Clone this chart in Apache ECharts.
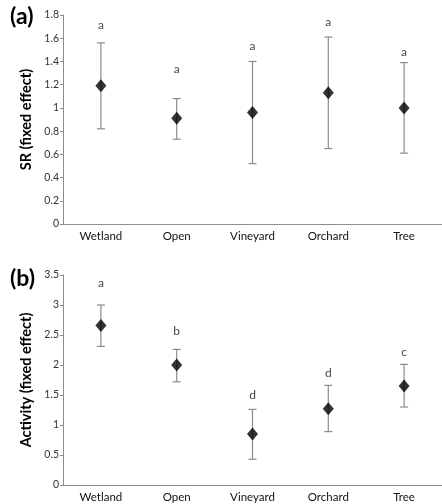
<!DOCTYPE html>
<html>
<head>
<meta charset="utf-8">
<script src="https://cdn.jsdelivr.net/npm/echarts@6/dist/echarts.min.js"></script>
<style>
  html, body { margin: 0; padding: 0; background: #fff; }
  #chart { width: 442px; height: 504px; }
</style>
</head>
<body>
<div id="chart"></div>
<script>
const categories = ['Wetland', 'Open', 'Vineyard', 'Orchard', 'Tree']

// panel (a) SR
const srMean = [1.19, 0.91, 0.96, 1.13, 1.0]
const srLow = [0.82, 0.73, 0.52, 0.65, 0.61]
const srHigh = [1.56, 1.08, 1.40, 1.61, 1.39]
const srLetters = ['a', 'a', 'a', 'a', 'a']
const srLetterY = [1.71, 1.335, 1.53, 1.74, 1.48]

// panel (b) Activity
const actMean = [2.66, 2.0, 0.85, 1.27, 1.65]
const actLow = [2.31, 1.72, 0.43, 0.89, 1.30]
const actHigh = [3.0, 2.26, 1.26, 1.66, 2.01]
const actLetters = ['a', 'b', 'd', 'd', 'c']
const actLetterY = [3.37, 2.57, 1.49, 1.86, 2.22]

const font = 'Lato, "Open Sans", sans-serif'
const axisGray = '#8c8c8c'

let myChart = echarts.init(document.getElementById('chart'), null, { renderer: 'canvas' })

function errorBars(params, api) {
    let x = api.value(0)
    let lo = api.coord([x, api.value(1)])
    let hi = api.coord([x, api.value(2)])
    let w = 4
    let style = { stroke: '#8c8c8c', lineWidth: 1.2 }
    return {
        type: 'group',
        children: [
            { type: 'line', shape: { x1: hi[0], y1: hi[1], x2: lo[0], y2: lo[1] }, style: style },
            { type: 'line', shape: { x1: hi[0] - w, y1: hi[1], x2: hi[0] + w, y2: hi[1] }, style: style },
            { type: 'line', shape: { x1: lo[0] - w, y1: lo[1], x2: lo[0] + w, y2: lo[1] }, style: style }
        ]
    }
}

function xAxisFor(idx) {
    return {
        type: 'category',
        gridIndex: idx,
        data: categories,
        axisLine: { lineStyle: { color: axisGray, width: 1 } },
        axisTick: { show: false },
        axisLabel: { color: '#111', fontSize: 11.5, fontFamily: font, margin: 6 },
        splitLine: { show: false }
    }
}

function yAxisFor(idx, max, interval, name) {
    return {
        type: 'value',
        gridIndex: idx,
        min: 0,
        max: max,
        interval: interval,
        name: name,
        nameLocation: 'middle',
        nameGap: 28,
        nameTextStyle: { color: '#000', fontSize: 14.5, fontWeight: 'bold', fontFamily: font },
        axisLine: { show: true, lineStyle: { color: axisGray, width: 1 } },
        axisTick: { show: true, length: 3, lineStyle: { color: axisGray } },
        axisLabel: { color: '#333', fontSize: 10.5, fontFamily: font, margin: 4 },
        splitLine: { show: false }
    }
}

function seriesFor(idx, mean, low, high, letters, letterY) {
    return [
        {
            type: 'custom',
            xAxisIndex: idx,
            yAxisIndex: idx,
            renderItem: errorBars,
            data: categories.map((c, i) => [i, low[i], high[i]]),
            z: 2
        },
        {
            type: 'scatter',
            xAxisIndex: idx,
            yAxisIndex: idx,
            symbol: 'diamond',
            symbolSize: [11, 13],
            itemStyle: { color: '#000' },
            data: mean.map((v, i) => [i, v]),
            z: 3
        },
        {
            type: 'scatter',
            xAxisIndex: idx,
            yAxisIndex: idx,
            symbolSize: 0,
            label: {
                show: true,
                position: 'inside',
                formatter: p => letters[p.dataIndex],
                color: '#111',
                fontSize: 12,
                fontFamily: font
            },
            data: letterY.map((v, i) => [i, v])
        }
    ]
}

myChart.setOption({
    animation: false,
    grid: [
        { left: 63, right: -9, top: 15, height: 209 },
        { left: 63, right: -9, top: 275, height: 210 }
    ],
    xAxis: [xAxisFor(0), xAxisFor(1)],
    yAxis: [
        yAxisFor(0, 1.8, 0.2, 'SR (fixed effect)'),
        yAxisFor(1, 3.5, 0.5, 'Activity (fixed effect)')
    ],
    graphic: [
        { type: 'text', left: 10, top: 5, style: { text: '(a)', fontSize: 23, fontWeight: 'bold', fontFamily: font, fill: '#000' } },
        { type: 'text', left: 10, top: 267, style: { text: '(b)', fontSize: 23, fontWeight: 'bold', fontFamily: font, fill: '#000' } }
    ],
    series: [
        ...seriesFor(0, srMean, srLow, srHigh, srLetters, srLetterY),
        ...seriesFor(1, actMean, actLow, actHigh, actLetters, actLetterY)
    ]
})
</script>
</body>
</html>
